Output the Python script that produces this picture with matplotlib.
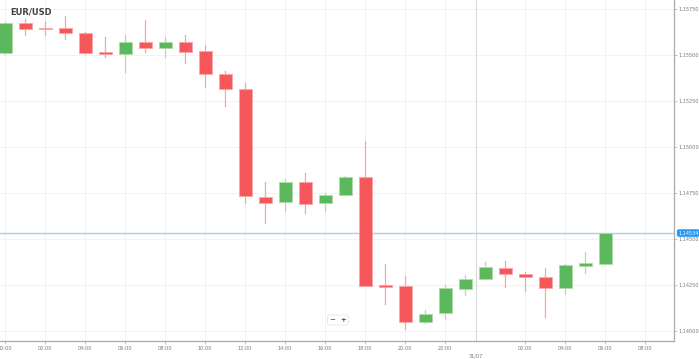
import matplotlib
matplotlib.use("Agg")
import matplotlib.pyplot as plt
from matplotlib.patches import Rectangle

# hourly candles, 30/07 00:00 .. 31/07 06:00
hours = list(range(31))
opens = [1.15512, 1.15676, 1.15647, 1.15647, 1.15621, 1.15518, 1.15505, 1.15571,
         1.15538, 1.15571, 1.15522, 1.15400, 1.15317, 1.14732, 1.14701, 1.14810,
         1.14696, 1.14741, 1.14840, 1.14252, 1.14246, 1.14052, 1.14098, 1.14230,
         1.14284, 1.14346, 1.14311, 1.14293, 1.14234, 1.14357, 1.14366]
highs = [1.15682, 1.15697, 1.15686, 1.15714, 1.15625, 1.15599, 1.15610, 1.15692,
         1.15601, 1.15610, 1.15556, 1.15415, 1.15351, 1.14813, 1.14826, 1.14859,
         1.14750, 1.14846, 1.15036, 1.14364, 1.14300, 1.14116, 1.14252, 1.14306,
         1.14378, 1.14384, 1.14321, 1.14346, 1.14364, 1.14433, 1.14534]
lows = [1.15508, 1.15610, 1.15610, 1.15589, 1.15508, 1.15491, 1.15409, 1.15516,
        1.15492, 1.15458, 1.15329, 1.15224, 1.14696, 1.14587, 1.14655, 1.14645,
        1.14654, 1.14739, 1.14245, 1.14147, 1.14012, 1.14043, 1.14065, 1.14197,
        1.14282, 1.14242, 1.14219, 1.14079, 1.14203, 1.14315, 1.14366]
closes = [1.15676, 1.15643, 1.15643, 1.15623, 1.15512, 1.15505, 1.15572, 1.15541,
          1.15574, 1.15520, 1.15398, 1.15315, 1.14735, 1.14699, 1.14810, 1.14692,
          1.14742, 1.14839, 1.14248, 1.14242, 1.14052, 1.14094, 1.14234, 1.14284,
          1.14347, 1.14311, 1.14293, 1.14234, 1.14360, 1.14370, 1.14534]

tick_pos = [0, 2, 4, 6, 8, 10, 12, 14, 16, 18, 20, 22, 26, 28, 30, 32]
tick_labels = ["00:00", "02:00", "04:00", "06:00", "08:00", "10:00", "12:00", "14:00",
               "16:00", "18:00", "20:00", "22:00", "02:00", "04:00", "06:00", "08:00"]
day_sep = 23.55
day_label = "31/07"
y_ticks = [1.14000, 1.14250, 1.14500, 1.14750, 1.15000, 1.15250, 1.15500, 1.15750]
last_price = closes[-1]

red = "#f6575a"
red_wick = "#f9a3a5"
green = "#5cb85c"
green_wick = "#b0dca9"
grid_c = "#f2f2f2"
text_c = "#777777"

fig = plt.figure(figsize=(6.99, 3.59), dpi=100)
ax = fig.add_axes([0, 18 / 359, 674 / 699, 341 / 359])

w = 0.65
for h, o, hi, lo, c in zip(hours, opens, highs, lows, closes):
    up = c >= o
    col = green if up else red
    wc = green_wick if up else red_wick
    ax.plot([h, h], [lo, hi], color=wc, lw=0.9, zorder=2)
    bottom = min(o, c)
    height = max(abs(c - o), 0.000025)
    ax.add_patch(Rectangle((h - w / 2, bottom), w, height, facecolor=col,
                           edgecolor=wc, lw=0.6, zorder=3))

ax.set_xlim(-0.25, 33.45)
ax.set_ylim(1.13947, 1.15801)

# grid
for x in tick_pos:
    ax.axvline(x, color=grid_c, lw=0.7, zorder=0)
for y in y_ticks:
    ax.axhline(y, color=grid_c, lw=0.7, zorder=0)
ax.axvline(day_sep, color="#d9d9d9", lw=0.8, zorder=0)

# current price line
ax.axhline(last_price, color="#a6d0f2", lw=1.0, zorder=1)

ax.set_xticks(tick_pos)
ax.set_xticklabels(tick_labels)
ax.yaxis.tick_right()
ax.set_yticks(y_ticks)
ax.set_yticklabels(["%.5f" % v for v in y_ticks])
ax.tick_params(axis="both", labelsize=3.6, length=2, width=0.5, pad=1.5,
               colors="#aaaaaa", labelcolor=text_c)

for s in ["top", "left"]:
    ax.spines[s].set_visible(False)
for s in ["right", "bottom"]:
    ax.spines[s].set_color("#aaaaaa")
    ax.spines[s].set_linewidth(0.9)

# day label below the separator
ax.annotate(day_label, xy=(day_sep, 1.13947), xytext=(0, -11),
            textcoords="offset points", ha="center", va="center",
            fontsize=3.6, color=text_c, annotation_clip=False)

# current price badge
ax.annotate("%.5f" % last_price, xy=(1, last_price), xycoords=("axes fraction", "data"),
            xytext=(3, 0), textcoords="offset points", ha="left", va="center",
            fontsize=3.6, color="white", annotation_clip=False,
            bbox=dict(boxstyle="round,pad=0.25,rounding_size=0.4", fc="#2196f3", ec="none"))

# title
ax.text(0.015, 0.965, "EUR/USD", transform=ax.transAxes, fontsize=6,
        fontweight="bold", color="#444444", ha="left", va="center")

# zoom buttons
ax.text(16.65, 1.14061, "\u2212  +", fontsize=5, color="#555555", ha="center",
        va="center", fontweight="bold",
        bbox=dict(boxstyle="round,pad=0.3", fc="white", ec="#e0e0e0", lw=0.5))

fig.savefig("out.png", dpi=100, facecolor="white")
